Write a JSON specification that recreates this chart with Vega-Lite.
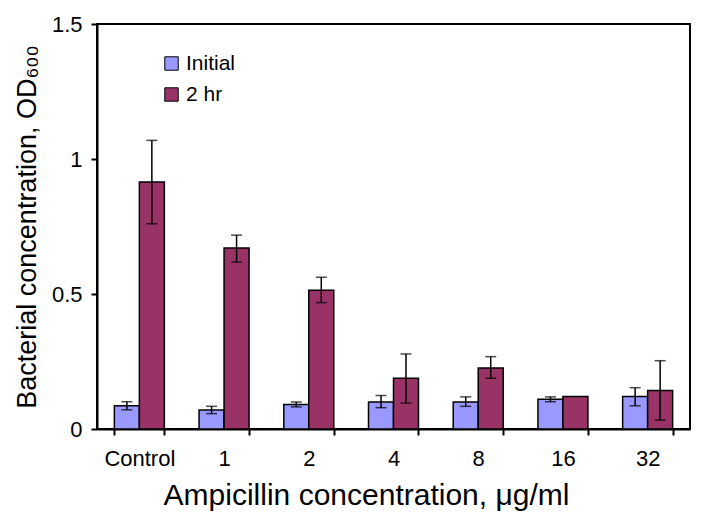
{
  "$schema": "https://vega.github.io/schema/vega-lite/v6.json",
  "width": 593,
  "height": 405,
  "autosize": "none",
  "padding": {"left": 97, "top": 24, "right": 14, "bottom": 99},
  "background": "white",
  "config": {
    "font": "Liberation Sans",
    "view": {"stroke": "black", "strokeWidth": 2}
  },
  "data": {
    "values": [
      {"conc": "Control", "series": "Initial", "value": 0.086, "lo": 0.071, "hi": 0.101},
      {"conc": "Control", "series": "2 hr", "value": 0.915, "lo": 0.760, "hi": 1.069},
      {"conc": "1", "series": "Initial", "value": 0.070, "lo": 0.057, "hi": 0.084},
      {"conc": "1", "series": "2 hr", "value": 0.670, "lo": 0.618, "hi": 0.718},
      {"conc": "2", "series": "Initial", "value": 0.091, "lo": 0.082, "hi": 0.100},
      {"conc": "2", "series": "2 hr", "value": 0.514, "lo": 0.468, "hi": 0.562},
      {"conc": "4", "series": "Initial", "value": 0.100, "lo": 0.079, "hi": 0.124},
      {"conc": "4", "series": "2 hr", "value": 0.188, "lo": 0.096, "hi": 0.278},
      {"conc": "8", "series": "Initial", "value": 0.100, "lo": 0.084, "hi": 0.119},
      {"conc": "8", "series": "2 hr", "value": 0.226, "lo": 0.188, "hi": 0.268},
      {"conc": "16", "series": "Initial", "value": 0.110, "lo": 0.101, "hi": 0.119},
      {"conc": "16", "series": "2 hr", "value": 0.120, "lo": null, "hi": null},
      {"conc": "32", "series": "Initial", "value": 0.120, "lo": 0.086, "hi": 0.153},
      {"conc": "32", "series": "2 hr", "value": 0.143, "lo": 0.033, "hi": 0.253}
    ]
  },
  "encoding": {
    "x": {
      "field": "conc",
      "type": "nominal",
      "sort": ["Control", "1", "2", "4", "8", "16", "32"],
      "scale": {"paddingInner": 0.41, "paddingOuter": 0.205},
      "axis": {
        "title": "Ampicillin concentration, μg/ml",
        "titleFontSize": 30,
        "titleFontWeight": "normal",
        "titleColor": "black",
        "titlePadding": 11,
        "titleX": 269,
        "labelAngle": 0,
        "labelFontSize": 22,
        "labelColor": "black",
        "labelPadding": 13,
        "tickBand": "extent",
        "tickSize": 6,
        "tickWidth": 2,
        "tickColor": "black",
        "domainColor": "black",
        "domainWidth": 2
      }
    },
    "xOffset": {
      "field": "series",
      "type": "nominal",
      "scale": {"domain": ["Initial", "2 hr"], "paddingInner": 0, "paddingOuter": 0}
    }
  },
  "layer": [
    {
      "mark": {"type": "bar", "stroke": "black", "strokeWidth": 1.5},
      "encoding": {
        "y": {
          "field": "value",
          "type": "quantitative",
          "scale": {"domain": [0, 1.5], "nice": false},
          "axis": {
            "title": "Bacterial concentration, OD₆₀₀",
            "titleFontSize": 27,
            "titleFontWeight": "normal",
            "titleColor": "black",
            "titlePadding": 10,
            "values": [0, 0.5, 1, 1.5],
            "format": "~g",
            "labelFontSize": 22,
            "labelColor": "black",
            "labelPadding": 9,
            "tickSize": 6,
            "tickWidth": 2,
            "tickColor": "black",
            "domainColor": "black",
            "domainWidth": 2,
            "grid": false
          }
        },
        "color": {
          "field": "series",
          "type": "nominal",
          "scale": {"domain": ["Initial", "2 hr"], "range": ["#9999FF", "#993366"]},
          "legend": {
            "title": null,
            "orient": "none",
            "legendX": 64,
            "legendY": 29,
            "symbolType": "square",
            "symbolSize": 180,
            "symbolStrokeColor": "black",
            "symbolStrokeWidth": 1,
            "labelFontSize": 21,
            "labelColor": "black",
            "labelOffset": 4,
            "rowPadding": 9
          }
        }
      }
    },
    {
      "mark": {"type": "rule", "color": "black", "strokeWidth": 1.5},
      "encoding": {
        "y": {"field": "lo", "type": "quantitative"},
        "y2": {"field": "hi"}
      }
    },
    {
      "mark": {"type": "tick", "color": "black", "thickness": 1.5, "size": 11, "orient": "horizontal"},
      "encoding": {
        "y": {"field": "lo", "type": "quantitative"}
      }
    },
    {
      "mark": {"type": "tick", "color": "black", "thickness": 1.5, "size": 11, "orient": "horizontal"},
      "encoding": {
        "y": {"field": "hi", "type": "quantitative"}
      }
    }
  ]
}
